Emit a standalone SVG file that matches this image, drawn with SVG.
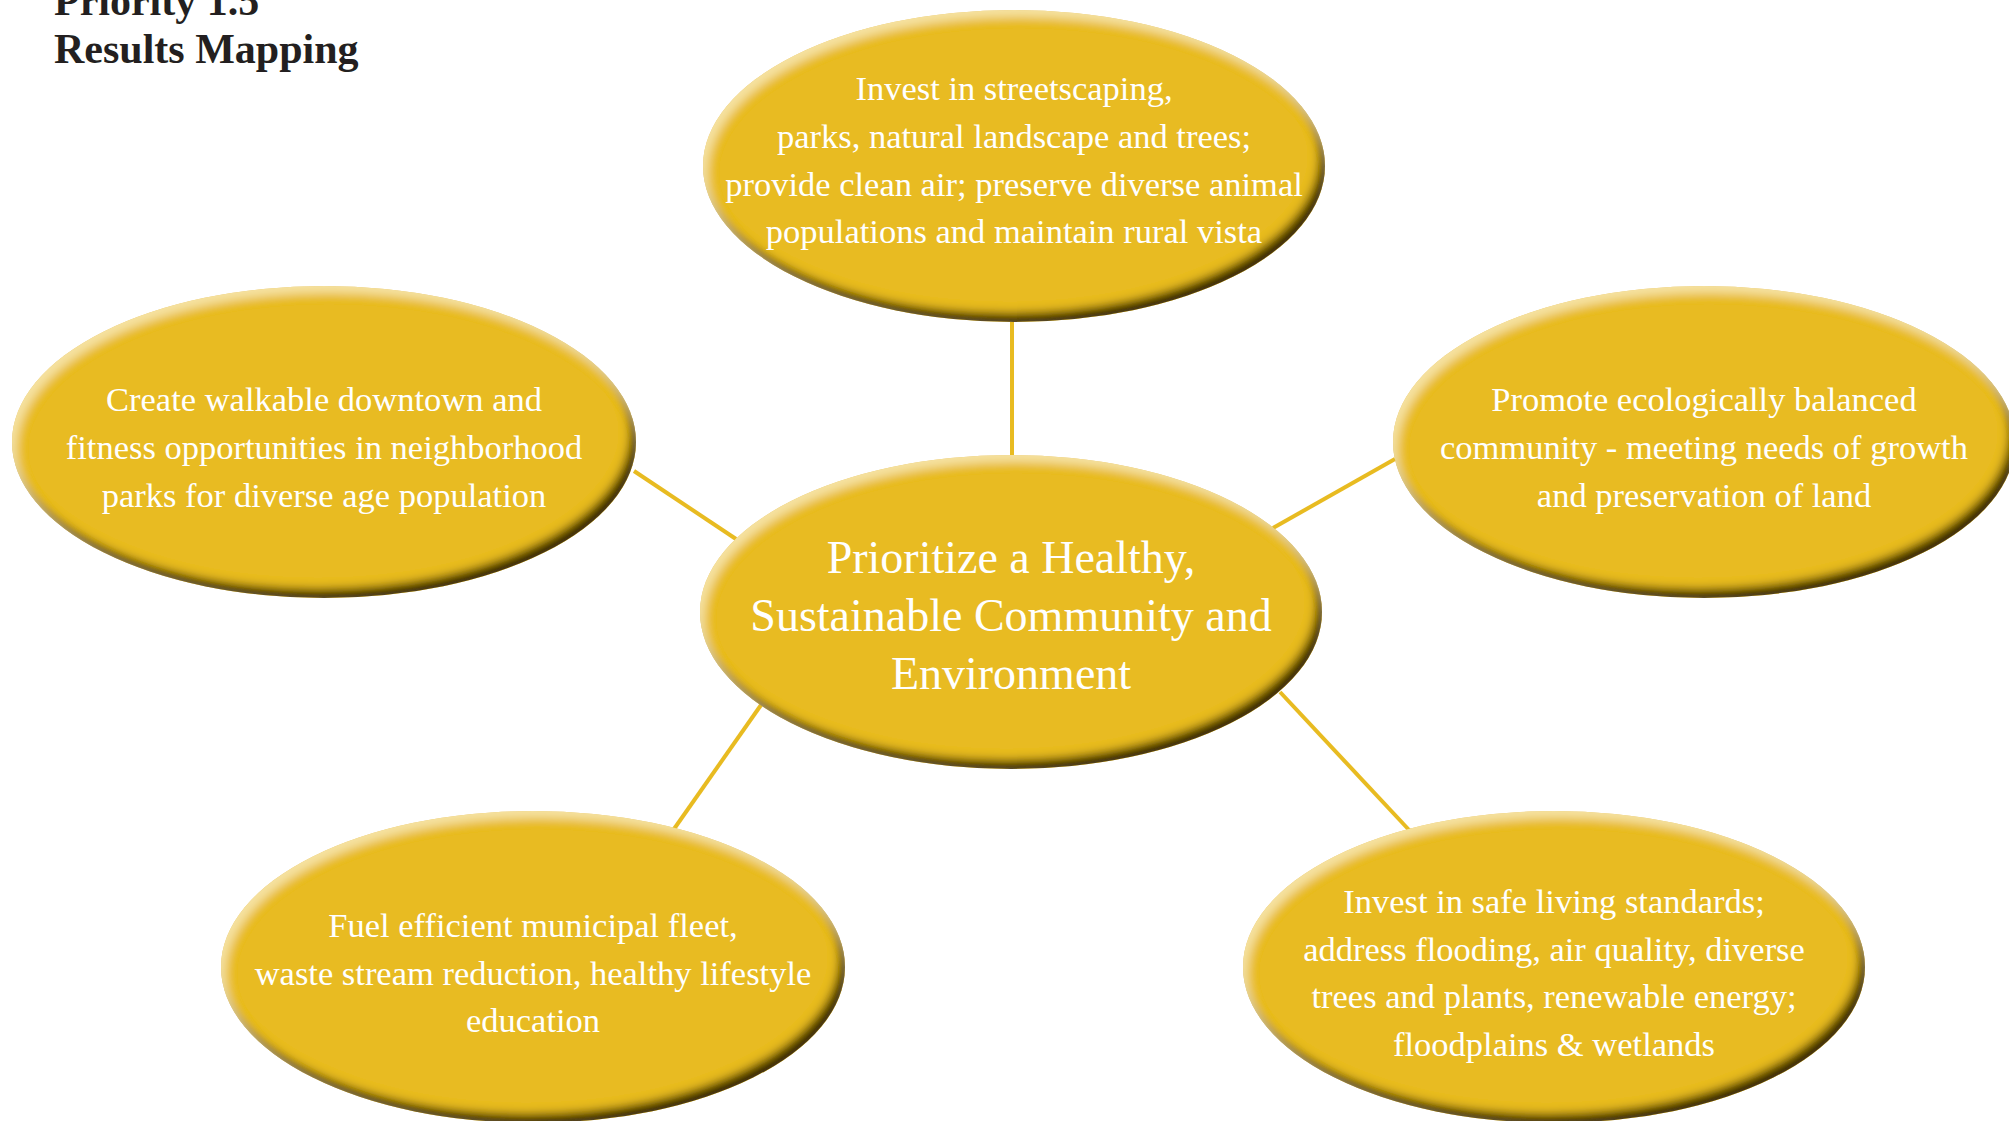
<svg xmlns="http://www.w3.org/2000/svg" width="2009" height="1121" viewBox="0 0 2009 1121">
<defs>
<filter id="bevel" x="-10%" y="-10%" width="120%" height="120%">
<feGaussianBlur in="SourceAlpha" stdDeviation="5" result="blur"/>
<feOffset in="blur" dx="-6" dy="-9" result="off1"/>
<feComposite in="SourceAlpha" in2="off1" operator="out" result="rim1"/>
<feFlood flood-color="#3a2c04" result="dk"/>
<feComposite in="dk" in2="rim1" operator="in" result="shadow"/>
<feOffset in="blur" dx="5" dy="7" result="off2"/>
<feComposite in="SourceAlpha" in2="off2" operator="out" result="rim2"/>
<feFlood flood-color="#f7e6a8" flood-opacity="0.9" result="lt"/>
<feComposite in="lt" in2="rim2" operator="in" result="light"/>
<feMerge><feMergeNode in="SourceGraphic"/><feMergeNode in="shadow"/><feMergeNode in="light"/></feMerge>
</filter>
</defs>
<style>
.node ellipse{fill:#e8bb21;filter:url(#bevel)}
.node text{fill:#ffffff;font-family:"Liberation Serif","Times New Roman",serif;font-size:34.5px;text-anchor:middle}
.node text.big{font-size:46px}
.conn line{stroke:#e8bb21;stroke-width:4}
.title{fill:#231f20;font-family:"Liberation Serif","Times New Roman",serif;font-weight:bold;font-size:42px}
</style>
<rect width="2009" height="1121" fill="#ffffff"/>
<text class="title" x="54" y="15">Priority 1.5</text>
<text class="title" x="54" y="63">Results Mapping</text>
<g id="connectors" class="conn">
<line x1="1012" y1="322" x2="1012" y2="456"/>
<line x1="634" y1="471" x2="736" y2="539"/>
<line x1="1395" y1="459" x2="1273" y2="528"/>
<line x1="761" y1="705" x2="674" y2="829"/>
<line x1="1280" y1="692" x2="1410" y2="831"/>
</g>
<g id="node-top" class="node">
<ellipse cx="1014" cy="166" rx="311" ry="156"/>
<text x="1014" y="100">Invest in streetscaping,</text>
<text x="1014" y="148">parks, natural landscape and trees;</text>
<text x="1014" y="196">provide clean air; preserve diverse animal</text>
<text x="1014" y="243">populations and maintain rural vista</text>
</g>
<g id="node-left" class="node">
<ellipse cx="324" cy="442" rx="312" ry="156"/>
<text x="324" y="411">Create walkable downtown and</text>
<text x="324" y="459">fitness opportunities in neighborhood</text>
<text x="324" y="507">parks for diverse age population</text>
</g>
<g id="node-right" class="node">
<ellipse cx="1704" cy="442" rx="311" ry="156"/>
<text x="1704" y="411">Promote ecologically balanced</text>
<text x="1704" y="459">community - meeting needs of growth</text>
<text x="1704" y="507">and preservation of land</text>
</g>
<g id="node-center" class="node">
<ellipse cx="1011" cy="612" rx="311" ry="157"/>
<text class="big" x="1011" y="573">Prioritize a Healthy,</text>
<text class="big" x="1011" y="631">Sustainable Community and</text>
<text class="big" x="1011" y="689">Environment</text>
</g>
<g id="node-bottom-left" class="node">
<ellipse cx="533" cy="967" rx="312" ry="156"/>
<text x="533" y="937">Fuel efficient municipal fleet,</text>
<text x="533" y="985">waste stream reduction, healthy lifestyle</text>
<text x="533" y="1032">education</text>
</g>
<g id="node-bottom-right" class="node">
<ellipse cx="1554" cy="967" rx="311" ry="156"/>
<text x="1554" y="913">Invest in safe living standards;</text>
<text x="1554" y="961">address flooding, air quality, diverse</text>
<text x="1554" y="1008">trees and plants, renewable energy;</text>
<text x="1554" y="1056">floodplains &amp; wetlands</text>
</g>
</svg>
